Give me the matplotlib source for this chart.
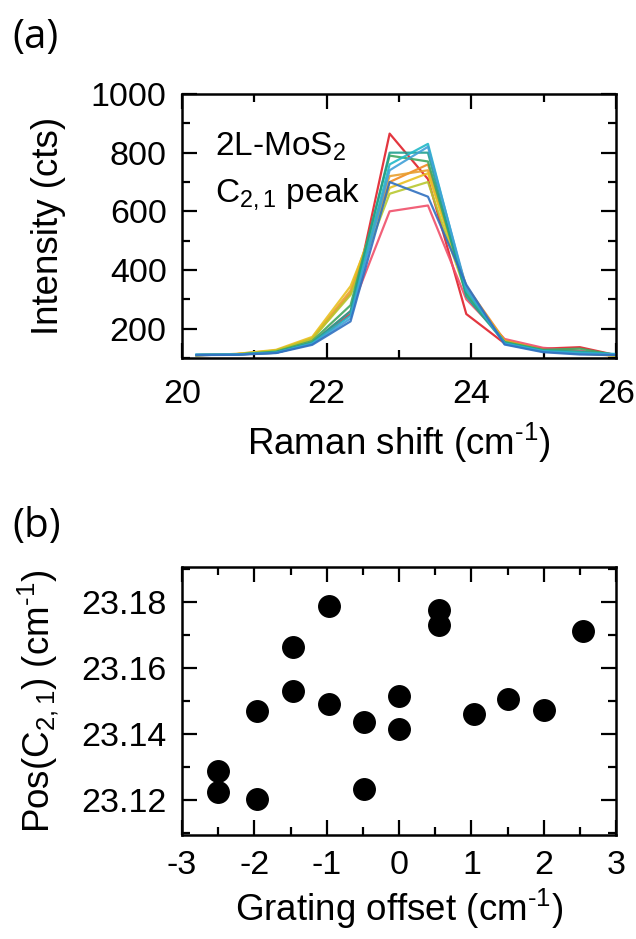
import matplotlib
matplotlib.use('Agg')
import matplotlib.pyplot as plt
from matplotlib.ticker import MultipleLocator

plt.rcParams['font.family'] = ['Liberation Sans', 'DejaVu Sans']
plt.rcParams['mathtext.fontset'] = 'custom'
plt.rcParams['mathtext.rm'] = 'Liberation Sans'
plt.rcParams['mathtext.it'] = 'Liberation Sans'
plt.rcParams['font.size'] = 24.5

# (a) spectres du pic C2,1 pour chaque decalage du reseau
raman_shift = [20.2, 20.75, 21.3, 21.8, 22.33, 22.87, 23.4, 23.93, 24.46, 24.99, 25.5, 26.0]

spectre_rouge = [110, 112, 118, 150, 250, 865, 710, 250, 150, 132, 137, 110]
spectre_rose = [110, 112, 120, 152, 260, 600, 620, 300, 165, 135, 125, 110]
spectre_orange = [110, 113, 125, 165, 320, 700, 760, 345, 160, 128, 118, 108]
spectre_orange2 = [110, 114, 126, 168, 330, 720, 740, 335, 158, 126, 115, 108]
spectre_jaune = [110, 114, 128, 172, 345, 680, 730, 330, 156, 125, 118, 108]
spectre_jaunevert = [110, 113, 125, 165, 315, 660, 700, 320, 155, 127, 120, 108]
spectre_vert = [110, 112, 122, 158, 280, 790, 770, 320, 155, 128, 132, 110]
spectre_sarcelle = [110, 112, 120, 152, 260, 800, 800, 310, 152, 126, 122, 112]
spectre_cyan = [112, 112, 118, 150, 245, 760, 830, 330, 150, 124, 118, 114]
spectre_bleuclair = [112, 112, 118, 148, 235, 740, 820, 340, 148, 122, 115, 112]
spectre_bleu = [110, 111, 117, 145, 225, 700, 650, 350, 146, 120, 112, 110]

spectres = [spectre_rouge, spectre_rose, spectre_orange, spectre_orange2, spectre_jaune,
            spectre_jaunevert, spectre_vert, spectre_sarcelle, spectre_cyan,
            spectre_bleuclair, spectre_bleu]
couleurs = ['#e0202a', '#f0506a', '#f08a20', '#e8a030', '#e8c020', '#b8c830',
            '#40a860', '#20a090', '#20b8c8', '#40a0d8', '#3070c0']

# (b) position du pic en fonction du decalage
decalage = [-2.5, -2.5, -1.96, -1.96, -1.46, -1.46, -0.97, -0.97, -0.49, -0.49,
            0.0, 0.0, 0.55, 0.55, 1.03, 1.51, 2.0, 2.55]
position = [23.1288, 23.1225, 23.1205, 23.147, 23.153, 23.1664, 23.1787, 23.1492,
            23.1437, 23.1233, 23.1515, 23.1416, 23.1775, 23.1729, 23.1462, 23.1505,
            23.1472, 23.1712]

fig = plt.figure(figsize=(6.36, 9.39), dpi=100)
ax1 = fig.add_axes([0.2862, 0.6187, 0.6824, 0.2812])
ax2 = fig.add_axes([0.2862, 0.1108, 0.6824, 0.2854])

for s, c in zip(spectres, couleurs):
    ax1.plot(raman_shift, s, color=c, lw=1.6, alpha=0.9)

ax1.set_xlim(20, 26)
ax1.set_ylim(100, 1000)
ax1.xaxis.set_major_locator(MultipleLocator(2))
ax1.xaxis.set_minor_locator(MultipleLocator(1))
ax1.yaxis.set_minor_locator(MultipleLocator(100))
ax1.set_yticks([200, 400, 600, 800, 1000])
ax1.set_xlabel('Raman shift (cm$^{‐1}$)', fontsize=26.5, labelpad=8)
ax1.set_ylabel('Intensity (cts)', fontsize=26.5, labelpad=18)
ax1.tick_params(axis='x', which='major', pad=15)
ax1.text(0.076, 0.765, '2L-MoS$_2$', transform=ax1.transAxes, fontsize=24)
ax1.text(0.076, 0.592, 'C$_{2,1}$ peak', transform=ax1.transAxes, fontsize=24)

ax2.scatter(decalage, position, s=240, color='black', zorder=3)
ax2.set_xlim(-3, 3)
ax2.set_ylim(23.1095, 23.1905)
ax2.set_xticks([-3, -2, -1, 0, 1, 2, 3])
ax2.set_xticklabels(['-3', '-2', '-1', '0', '1', '2', '3'])
ax2.xaxis.set_minor_locator(MultipleLocator(0.5))
ax2.set_yticks([23.12, 23.14, 23.16, 23.18])
ax2.yaxis.set_minor_locator(MultipleLocator(0.01))
ax2.set_xlabel('Grating offset (cm$^{‐1}$)', fontsize=26.5, labelpad=4)
ax2.set_ylabel('Pos(C$_{2,1}$) (cm$^{‐1}$)', fontsize=26.5, labelpad=15)

for ax in (ax1, ax2):
    for sp in ax.spines.values():
        sp.set_linewidth(1.8)
    ax.tick_params(which='both', direction='in', top=True, right=True, width=1.6)
    ax.tick_params(which='major', length=11)
    ax.tick_params(which='minor', length=6)
ax1.tick_params(axis='y', which='major', pad=11)
ax2.tick_params(which='major', pad=11)

fig.text(0.02, 0.949, '(a)', fontsize=29, family=['Open Sans', 'DejaVu Sans'])
fig.text(0.02, 0.428, '(b)', fontsize=29, family=['Open Sans', 'DejaVu Sans'])

fig.savefig('out.png', dpi=100)
